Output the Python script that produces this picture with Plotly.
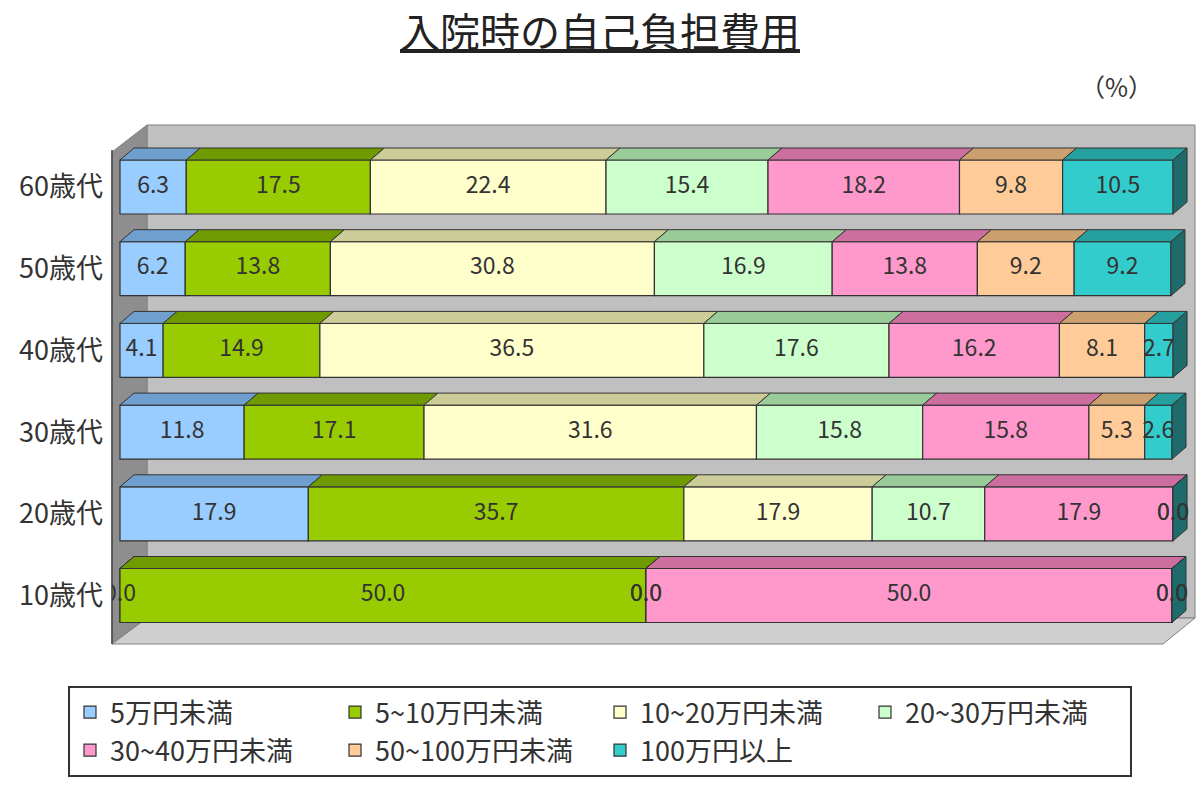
import plotly.graph_objects as go

# ---------------- data ----------------
age_groups = ["10歳代", "20歳代", "30歳代", "40歳代", "50歳代", "60歳代"]
series_names = ["5万円未満", "5~10万円未満", "10~20万円未満", "20~30万円未満",
                "30~40万円未満", "50~100万円未満", "100万円以上"]
v_under5 = [0.0, 17.9, 11.8, 4.1, 6.2, 6.3]
v_5to10 = [50.0, 35.7, 17.1, 14.9, 13.8, 17.5]
v_10to20 = [0.0, 17.9, 31.6, 36.5, 30.8, 22.4]
v_20to30 = [0.0, 10.7, 15.8, 17.6, 16.9, 15.4]
v_30to40 = [50.0, 17.9, 15.8, 16.2, 13.8, 18.2]
v_50to100 = [0.0, 0.0, 5.3, 8.1, 9.2, 9.8]
v_over100 = [0.0, 0.0, 2.6, 2.7, 9.2, 10.5]
series_values = [v_under5, v_5to10, v_10to20, v_20to30, v_30to40, v_50to100, v_over100]

# ---------------- style ----------------
front_colors = ["#99ccff", "#99cc00", "#ffffcc", "#ccffcc", "#ff99cc", "#ffcc99", "#33cccc"]
top_colors = ["#6f9fcf", "#6f9a00", "#cccc99", "#99cc99", "#cc6f9f", "#cc9f6f", "#269f9f"]
side_color = "#1f6b6b"
FONT = "Noto Sans CJK JP"
TXT = "#333333"

W, H = 1200, 792
L, R, T, B = 112, 4, 124, 148
pw, ph = W - L - R, H - T - B
sx = (1172 - 120) / 100.0
x0v = (L - 120) / sx
x1v = (W - R - 120) / sx
sy = 81.7
y1v = (595.5 - T) / sy
y0v = -(H - B - 595.5) / sy
bar_w = 54 / sy
dx = 14 / sx
dy = 12 / sy

def P(px, py):
    return (px - L) / pw, (H - B - py) / ph

fig = go.Figure()

ypos = list(range(len(age_groups)))

# front faces
bases = [0.0] * len(age_groups)
starts = []
for name, vals, col in zip(series_names, series_values, front_colors):
    starts.append(list(bases))
    fig.add_trace(go.Bar(
        y=ypos, x=vals, base=list(bases), orientation="h", name=name,
        width=bar_w, marker=dict(color=col, line=dict(color="#333333", width=1.2)),
        hoverinfo="skip"))
    bases = [b + v for b, v in zip(bases, vals)]

# top faces (3D)
for k, (vals, tcol) in enumerate(zip(series_values, top_colors)):
    xs, ys = [], []
    for i, v in enumerate(vals):
        a = starts[k][i]
        b = a + v
        yt = ypos[i] + bar_w / 2
        xs += [a, b, b + dx, a + dx, a, None]
        ys += [yt, yt, yt + dy, yt + dy, yt, None]
    fig.add_trace(go.Scatter(x=xs, y=ys, mode="lines", fill="toself", fillcolor=tcol,
                             line=dict(color="#333333", width=1), showlegend=False,
                             hoverinfo="skip"))

# right side faces
xs, ys = [], []
for i in ypos:
    e = bases[i]
    yb, yt = i - bar_w / 2, i + bar_w / 2
    xs += [e, e + dx, e + dx, e, e, None]
    ys += [yb, yb + dy, yt + dy, yt, yb, None]
fig.add_trace(go.Scatter(x=xs, y=ys, mode="lines", fill="toself", fillcolor=side_color,
                         line=dict(color="#333333", width=1), showlegend=False, hoverinfo="skip"))

# value labels
lx, ly, lt = [], [], []
for k, vals in enumerate(series_values):
    for i, v in enumerate(vals):
        lx.append(starts[k][i] + v / 2)
        ly.append(ypos[i])
        lt.append(f"{v:.1f}")
fig.add_trace(go.Scatter(x=lx, y=ly, text=lt, mode="text", showlegend=False,
                         textfont=dict(family=FONT, size=23, color=TXT), hoverinfo="skip"))

# ---------------- frame (3D walls) ----------------
shapes = []
def poly(pts, fill, line="#808080", lw=1):
    path = ""
    for j, (px, py) in enumerate(pts):
        x, y = P(px, py)
        path += ("M" if j == 0 else "L") + f"{x:.5f},{y:.5f} "
    path += "Z"
    shapes.append(dict(type="path", xref="paper", yref="paper", path=path,
                       fillcolor=fill, line=dict(color=line, width=lw), layer="below"))

poly([(147, 125), (1195, 125), (1195, 618), (147, 618)], "#c0c0c0")
poly([(112, 644), (112, 152), (147, 125), (147, 618)], "#8e8e8e")
poly([(112, 644), (147, 618), (1195, 618), (1163, 644)], "#cfcfcf")
x_a, y_a = P(112, 150)
x_b, y_b = P(112, 644)
shapes.append(dict(type="line", xref="paper", yref="paper", x0=x_a, y0=y_a, x1=x_b, y1=y_b,
                   line=dict(color="#444444", width=1.5), layer="below"))

fig.update_layout(
    width=W, height=H,
    margin=dict(l=L, r=R, t=T, b=B),
    paper_bgcolor="white", plot_bgcolor="rgba(0,0,0,0)",
    barmode="overlay",
    shapes=shapes,
    font=dict(family=FONT, color=TXT),
    title=dict(text="<u>入院時の自己負担費用</u>", x=0.5, xref="container", xanchor="center",
               y=1 - 33 / H, yref="container", yanchor="middle",
               font=dict(family=FONT, size=40, color="#222222")),
    xaxis=dict(range=[x0v, x1v], visible=False, fixedrange=True),
    yaxis=dict(range=[y0v, y1v], tickvals=ypos, ticktext=age_groups, showgrid=False,
               zeroline=False, showline=False, ticks="", ticklabelstandoff=8,
               tickfont=dict(family=FONT, size=27, color=TXT), fixedrange=True),
    legend=dict(orientation="h", xref="container", yref="container",
                x=68 / W, y=1 - 686 / H, xanchor="left", yanchor="top",
                entrywidth=220, entrywidthmode="pixels", traceorder="normal",
                bordercolor="#333333", borderwidth=2, bgcolor="white",
                font=dict(family=FONT, size=27, color=TXT), itemwidth=30),
    annotations=[dict(text="（%）", xref="paper", yref="paper", x=P(1116, 0)[0], y=P(0, 86)[1],
                      showarrow=False, xanchor="center", yanchor="middle",
                      font=dict(family=FONT, size=25, color=TXT))],
)

fig.write_html("out.html")
